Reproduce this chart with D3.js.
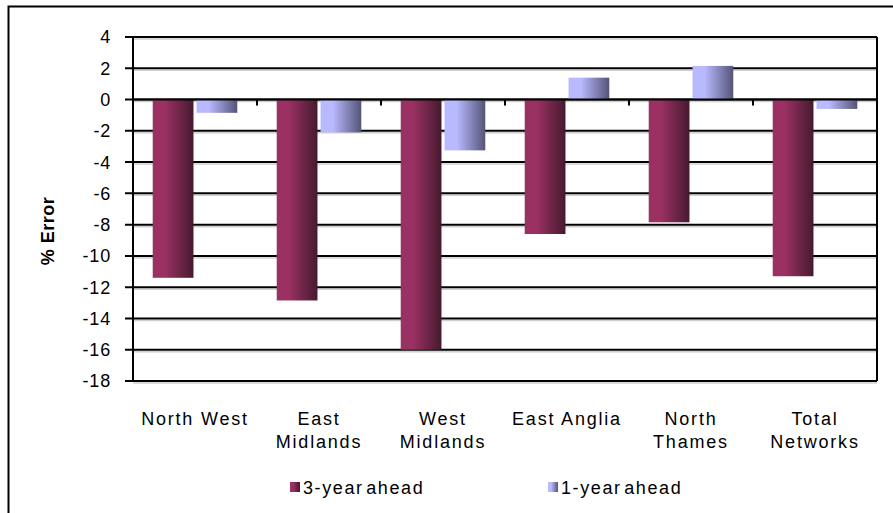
<!DOCTYPE html>
<html>
<head>
<meta charset="utf-8">
<script src="https://cdn.jsdelivr.net/npm/d3@7"></script>
<style>
  body { margin: 0; background: #fff; }
  text { font-family: "Liberation Sans", Arial, sans-serif; }
</style>
</head>
<body>
<div id="chart"></div>
<script>
'use strict';

var width = 893;
var height = 513;

// data
var categories = [['North West'], ['East', 'Midlands'], ['West', 'Midlands'],
  ['East Anglia'], ['North', 'Thames'], ['Total', 'Networks']];
var series = ['3-year ahead', '1-year ahead'];
var threeYear = [-11.4, -12.85, -16.0, -8.6, -7.85, -11.3];
var oneYear = [-0.85, -2.1, -3.25, 1.4, 2.15, -0.6];
var yTicks = [4, 2, 0, -2, -4, -6, -8, -10, -12, -14, -16, -18];

var margin = {left: 133, top: 37, right: 877, bottom: 381};

var svg = d3.select('#chart').append('svg')
  .attr('width', width)
  .attr('height', height);

// gradients for the bars
var defs = svg.append('defs');
function grad(id, c1, c2) {
  var g = defs.append('linearGradient').attr('id', id)
    .attr('x1', '0%').attr('x2', '100%').attr('y1', '0%').attr('y2', '0%');
  g.append('stop').attr('offset', '0%').attr('stop-color', c1);
  g.append('stop').attr('offset', '30%').attr('stop-color', c1);
  g.append('stop').attr('offset', '100%').attr('stop-color', c2);
}
grad('g3', '#9a3162', '#461a2f');
grad('g1', '#b9b9ff', '#545478');

// outer frame
svg.append('rect')
  .attr('x', 8.5).attr('y', 6.5)
  .attr('width', 900).attr('height', 520)
  .attr('fill', 'none').attr('stroke', '#000').attr('stroke-width', 2);

var x0 = d3.scaleBand()
  .domain(d3.range(categories.length))
  .range([margin.left, margin.right]);

var x1 = d3.scaleBand()
  .domain([0, 1])
  .range([0, x0.bandwidth()])
  .paddingOuter(0.45)
  .paddingInner(0.07);

var y = d3.scaleLinear()
  .domain([-18, 4])
  .range([margin.bottom, margin.top]);

// gridlines with a light shadow
var grid = svg.append('g');
grid.selectAll('line.shadow').data(yTicks).enter().append('line')
  .attr('x1', margin.left).attr('x2', margin.right)
  .attr('y1', function(d){ return y(d) + 2; })
  .attr('y2', function(d){ return y(d) + 2; })
  .attr('stroke', '#d0d0d0').attr('stroke-width', 1.5);
grid.selectAll('line.main').data(yTicks).enter().append('line')
  .attr('x1', margin.left - 8).attr('x2', margin.right)
  .attr('y1', function(d){ return y(d); })
  .attr('y2', function(d){ return y(d); })
  .attr('stroke', '#000').attr('stroke-width', 2);

// right border of plot area
svg.append('line')
  .attr('x1', margin.right).attr('x2', margin.right)
  .attr('y1', margin.top).attr('y2', margin.bottom)
  .attr('stroke', '#000').attr('stroke-width', 2);

// bars
var groups = svg.append('g').selectAll('g').data(categories).enter().append('g')
  .attr('transform', function(d, i){ return 'translate(' + x0(i) + ',0)'; });

var allValues = [threeYear, oneYear];
groups.selectAll('rect').data(function(d, i){
    return allValues.map(function(s, k){ return {k: k, v: s[i]}; });
  }).enter().append('rect')
  .attr('x', function(d){ return x1(d.k); })
  .attr('width', x1.bandwidth())
  .attr('y', function(d){ return y(Math.max(0, d.v)); })
  .attr('height', function(d){ return Math.abs(y(d.v) - y(0)); })
  .attr('fill', function(d){ return d.k === 0 ? 'url(#g3)' : 'url(#g1)'; });

// zero line on top of bars
svg.append('line')
  .attr('x1', margin.left).attr('x2', margin.right)
  .attr('y1', y(0)).attr('y2', y(0))
  .attr('stroke', '#000').attr('stroke-width', 2);

// category tick marks on zero line
svg.append('g').selectAll('line').data(d3.range(1, categories.length)).enter().append('line')
  .attr('x1', function(d){ return x0(d); })
  .attr('x2', function(d){ return x0(d); })
  .attr('y1', y(0)).attr('y2', y(0) + 6)
  .attr('stroke', '#000').attr('stroke-width', 2);

// left axis line
svg.append('line')
  .attr('x1', margin.left).attr('x2', margin.left)
  .attr('y1', margin.top).attr('y2', margin.bottom)
  .attr('stroke', '#000').attr('stroke-width', 2);

// y tick labels
svg.append('g').selectAll('text').data(yTicks).enter().append('text')
  .attr('x', 111)
  .attr('y', function(d){ return y(d); })
  .attr('dy', '0.36em')
  .attr('text-anchor', 'end')
  .attr('font-size', 18)
  .attr('letter-spacing', 0.8)
  .text(function(d){ return d; });

// y axis title
svg.append('text')
  .attr('transform', 'translate(54,' + ((margin.top + margin.bottom) / 2 + 22) + ') rotate(-90)')
  .attr('text-anchor', 'middle')
  .attr('font-size', 18)
  .attr('font-weight', 'bold')
  .attr('letter-spacing', 0.5)
  .text('% Error');

// category labels
var labels = svg.append('g').selectAll('text').data(categories).enter().append('text')
  .attr('x', function(d, i){ return x0(i) + x0.bandwidth() / 2; })
  .attr('y', 425)
  .attr('text-anchor', 'middle')
  .attr('font-size', 18)
  .attr('letter-spacing', 1.8);
labels.selectAll('tspan').data(function(d){ return d; }).enter().append('tspan')
  .attr('x', function(){ return d3.select(this.parentNode).attr('x'); })
  .attr('dy', function(d, i){ return i === 0 ? 0 : 23; })
  .text(function(d){ return d; });

// legend
var legendX = [290, 548];
var legend = svg.append('g').selectAll('g').data(series).enter().append('g')
  .attr('transform', function(d, i){ return 'translate(' + legendX[i] + ',482)'; });
legend.append('rect')
  .attr('width', 10).attr('height', 10)
  .attr('fill', function(d, i){ return i === 0 ? 'url(#g3)' : 'url(#g1)'; });
legend.append('text')
  .attr('x', 13).attr('y', 12)
  .attr('font-size', 18)
  .attr('letter-spacing', 1.6)
  .attr('word-spacing', -4)
  .text(function(d){ return d; });
</script>
</body>
</html>
